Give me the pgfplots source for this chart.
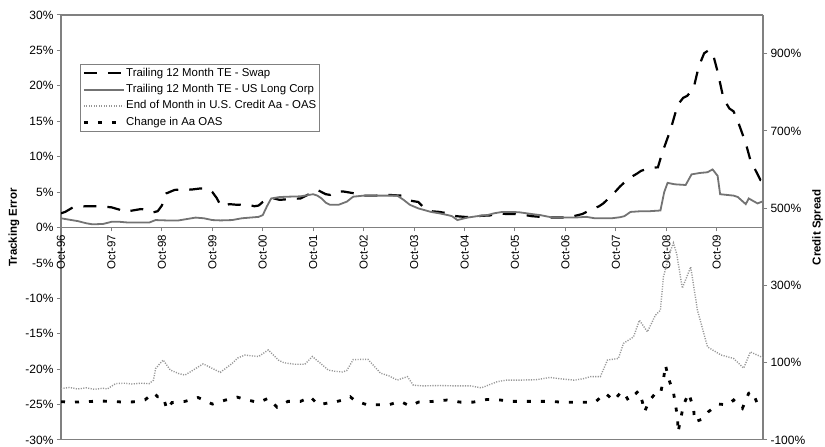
\documentclass[border=0pt]{standalone}
\usepackage{pgfplots}
\pgfplotsset{compat=1.18}
\usepackage{fontspec}
\setmainfont{Liberation Sans}
\definecolor{axgray}{RGB}{128,128,128}
\definecolor{corpgray}{RGB}{115,115,115}
\definecolor{oasgray}{RGB}{150,150,150}
\tikzset{
  swapstyle/.style={black, line width=2.2bp, dash pattern=on 13bp off 11bp},
  corpstyle/.style={corpgray, line width=1.8bp},
  oasstyle/.style={oasgray, line width=1.4bp, dash pattern=on 1.1bp off 1.4bp},
  chgstyle/.style={black, line width=2.8bp, dash pattern=on 4bp off 10bp},
}
\begin{document}
\begin{tikzpicture}
\pgfplotsset{
  common/.style={
    scale only axis, width=702bp, height=425bp,
    at={(0,0)}, anchor=south west,
    xmin=0, xmax=167,
    tick label style={font=\fontsize{12bp}{14bp}\selectfont},
    axis line style={axgray, line width=1.3bp},
    every tick/.style={axgray, line width=1bp},
    major tick length=4bp,
    tick align=outside,
  }
}
\begin{axis}[common,
  axis x line*=middle, axis y line*=left,
  hide obscured x ticks=false, hide obscured y ticks=false,
  ymin=-30, ymax=30,
  ytick={-30,-25,-20,-15,-10,-5,0,5,10,15,20,25,30},
  yticklabels={-30\%,-25\%,-20\%,-15\%,-10\%,-5\%,0\%,5\%,10\%,15\%,20\%,25\%,30\%},
  xtick={0,12,24,36,48,60,72,84,96,108,120,132,144,156},
  xticklabels={Oct-96,Oct-97,Oct-98,Oct-99,Oct-00,Oct-01,Oct-02,Oct-03,Oct-04,Oct-05,Oct-06,Oct-07,Oct-08,Oct-09},
  xticklabel style={rotate=90, anchor=east, font=\fontsize{11.5bp}{13bp}\selectfont},
  ylabel={Tracking Error},
  ylabel style={at={(axis description cs:-0.067,0.5)}, anchor=center, font=\bfseries\fontsize{11.5bp}{13bp}\selectfont},
]
% Trailing 12 Month TE - Swap
\addplot[swapstyle] coordinates {
(0,2.0) (1,2.2) (3,2.9) (6,3.0) (9,3.0) (12,2.85) (14,2.5) (15,2.2) (17,2.4) (19,2.6) (21,2.5) (22,2.15) (23,2.3) (24,3.1) (25,4.8) (27,5.3) (29,5.4) (31,5.35) (33,5.5) (35,5.5) (36,5.0) (37,4.2) (38,3.1) (39,3.0) (40,3.3) (42,3.2) (44,3.3) (46,3.0) (47,3.1) (48,3.6) (49,3.9) (50,4.2) (52,3.9) (54,4.0) (57,4.1) (59,4.7) (61,5.3) (62,5.0) (63,4.7) (64,4.6) (65,5.0) (67,5.1) (68,5.0) (70,4.8) (72,4.5) (75,4.5) (78,4.6) (81,4.5) (83,3.8) (85,3.6) (86,3.0) (88,2.3) (90,2.2) (92,2.0) (94,1.6) (96,1.5) (98,1.5) (100,1.65) (102,1.7) (104,2.0) (106,1.9) (108,1.9) (110,1.8) (112,1.6) (114,1.5) (116,1.4) (118,1.4) (120,1.4) (122,1.6) (124,1.9) (126,2.5) (128,3.0) (129,3.4) (131,4.5) (133,5.8) (135,6.9) (137,7.6) (138,8.0) (140,8.4) (142,8.5) (143,10.5) (145,13.8) (146.7,17.3) (148,18.3) (149,18.6) (150.5,19.7) (151.7,22.7) (153,24.6) (154,25.0) (155,24.7) (156.2,22.0) (157.6,18.2) (159,16.8) (160,16.4) (161.2,14.7) (162.9,11.9) (164,9.5) (165.2,8.1) (166.4,6.7) (167,6.6)
};
% Trailing 12 Month TE - US Long Corp
\addplot[corpstyle] coordinates {
(0,1.3) (2,1.1) (4,0.9) (6,0.6) (7.5,0.45) (10,0.5) (12,0.8) (14,0.8) (16,0.7) (18,0.7) (21,0.7) (22.5,1.05) (25,1.0) (28,1.0) (30,1.2) (32,1.4) (34,1.3) (36,1.05) (38,1.0) (40.7,1.05) (43,1.3) (45,1.4) (47,1.5) (48,1.75) (49,3.0) (50,4.1) (52,4.3) (54,4.35) (57,4.4) (59,4.6) (60,4.7) (61,4.5) (62,4.1) (63,3.5) (64,3.2) (66,3.2) (68,3.65) (69.5,4.35) (72,4.5) (75,4.5) (78,4.5) (80,4.5) (81.5,3.9) (83,3.2) (85,2.7) (88,2.2) (90,2.0) (92,1.75) (93,1.6) (94.3,1.05) (96.7,1.4) (99,1.6) (101.4,1.75) (103,2.0) (105,2.2) (107,2.2) (109,2.15) (112,1.9) (114,1.75) (117,1.4) (120,1.4) (122,1.4) (125,1.5) (127,1.3) (131,1.3) (133,1.45) (134,1.6) (135.5,2.2) (138,2.3) (140,2.3) (142.6,2.4) (143.5,5.0) (144.3,6.3) (146,6.1) (148.6,6.0) (150,7.5) (152,7.7) (153.8,7.8) (155,8.2) (156.2,7.3) (156.8,4.7) (160,4.5) (161,4.3) (162.9,3.3) (163.6,4.1) (165.7,3.4) (167,3.7)
};
\end{axis}
\begin{axis}[common,
  axis x line=none,
  axis y line*=right,
  ymin=-100, ymax=1000,
  ytick={-100,100,300,500,700,900},
  yticklabels={-100\%,100\%,300\%,500\%,700\%,900\%},
  ylabel={Credit Spread},
  ylabel style={at={(axis description cs:1.078,0.5)}, anchor=center, font=\bfseries\fontsize{11.5bp}{13bp}\selectfont},
  legend image code/.code={\draw[#1] (0bp,0bp) -- (40bp,0bp);},
  legend cell align=left,
  legend style={at={(0.027,0.885)}, anchor=north west, draw=axgray, line width=1bp, fill=white,
    font=\fontsize{11.4bp}{13bp}\selectfont, inner xsep=2bp, inner ysep=2.5bp, row sep=3.3bp,
    nodes={inner sep=1bp, text height=8.5bp, text depth=2.5bp},
    /tikz/every even column/.append style={column sep=1bp}},
]
\addlegendimage{swapstyle}
\addlegendentry{Trailing 12 Month TE - Swap}
\addlegendimage{corpstyle}
\addlegendentry{Trailing 12 Month TE - US Long Corp}
% End of Month in U.S. Credit Aa - OAS
\addplot[oasstyle] coordinates {
(0,33) (2,36) (4,32) (6,35) (8,31) (10,34) (11,32) (13,46) (15,47) (17,45) (19,47) (21,46) (22,55) (22.5,85) (24.3,107) (26,81) (28,72) (29.5,68) (31,78) (33.8,97) (35.5,88) (37.9,75) (40.7,98) (42,112) (43.8,120) (45,118) (47,116) (49.3,133) (51.7,107) (53,100) (55.7,96) (58,96) (59.8,116) (62,96) (63.6,81) (65,78) (67,76) (68,80) (69.5,108) (73,109) (76,73) (78,66) (80,55) (82.4,64) (83.8,42) (86,40) (90,41) (94,40) (97.4,40) (100,35) (103.8,51) (106,55) (109,55) (113,56) (116.4,62) (119,58) (122,55) (124,58) (126,64) (128.3,64) (130,107) (132.6,111) (133.8,150) (136.2,167) (137.6,210) (139.5,180) (141.4,223) (142.6,236) (143.3,322) (145,390) (145.7,410) (146.5,380) (147.8,293) (149.8,348) (151.4,236) (153.8,141) (157,120) (160,111) (162.4,86) (164,128) (166.4,116) (167,113)
};
\addlegendentry{End of Month in U.S. Credit Aa - OAS}
% Change in Aa OAS
\addplot[chgstyle] coordinates {
(0,-1) (3,-2) (6,-1) (9,1) (12,0) (15,-2) (18,-1) (20,4) (22,22) (23,12) (24.3,12) (25.2,-21) (26.4,-3) (29.5,0) (32.6,10) (36,-7) (39,3) (41.9,11) (43.8,5) (47,-3) (49.3,8) (51.4,-15) (54,0) (57,0) (59.3,12) (61.2,-9) (63.6,-4) (64,-5) (67,3.5) (68.8,12) (70,1) (72.9,-9) (75,-9) (77.9,-9) (80.7,0) (83,-12) (85,-2) (88.6,0) (91.9,3.5) (95,-2) (98,-2) (101.4,5) (104.5,3.5) (107,0) (110,0) (113,0) (116,0) (120,-2.5) (124,-2.5) (127,-2.5) (129.5,21) (131.5,2) (133,21) (133.8,25) (135,2) (137.4,27) (138.3,-1) (138.8,-27) (140,2) (141.4,21) (142.6,20) (143.3,55) (143.8,94) (144.5,60) (145.7,23) (146.2,-9) (146.7,-46) (146.8,-80) (147.4,-46) (148.1,-9) (149.3,21) (150.5,-18) (150.7,-53) (152.6,-46) (154,-27) (156.4,-7) (158.6,-9) (160,3.5) (162.1,-18) (163.6,21) (164.5,25) (165.7,-7)
};
\addlegendentry{Change in Aa OAS}
\draw[axgray, line width=1.3bp] (rel axis cs:0,1) -- (rel axis cs:1,1);
\draw[axgray, line width=1.3bp] (rel axis cs:0,0) -- (rel axis cs:1,0);
\end{axis}
\pgfresetboundingbox
\path[use as bounding box] (-61bp,-7bp) rectangle (764bp,440bp);
\end{tikzpicture}
\end{document}
